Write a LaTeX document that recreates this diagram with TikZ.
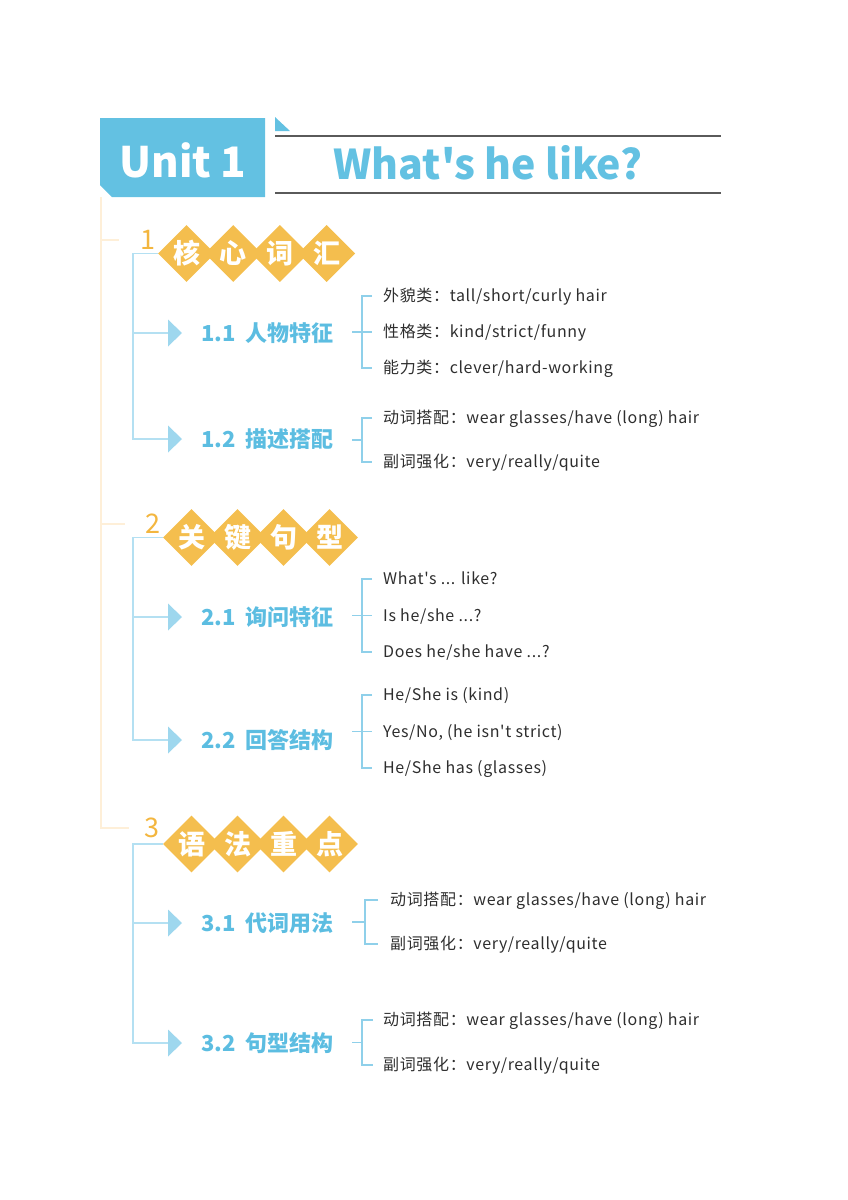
\documentclass[tikz,border=0pt]{standalone}
\usepackage{fontspec}
\setmainfont{Noto Sans CJK SC}[Ligatures=TeXOff]
\newfontfamily\itemfont{Noto Sans CJK SC}[Ligatures=TeXOff, LetterSpace=4]
\usetikzlibrary{positioning,shapes.geometric,calc}
\definecolor{headblue}{HTML}{63C1E2}
\definecolor{subblue}{HTML}{5CBDE1}
\definecolor{treeblue}{HTML}{B4E0F2}
\definecolor{tipblue}{HTML}{9ED7EE}
\definecolor{brkblue}{HTML}{8FD0EA}
\definecolor{gemorange}{HTML}{F4BE4E}
\definecolor{numorange}{HTML}{F3B63F}
\definecolor{creamline}{HTML}{FEEFD8}
\definecolor{titleline}{HTML}{5A5A5A}
\definecolor{itemgray}{HTML}{2E2E2E}
\begin{document}
\begin{tikzpicture}[x=1pt, y=-1pt,
    gem/.style={diamond, fill=gemorange, minimum size=57pt, inner sep=0pt,
      text=white, font=\bfseries\fontsize{27}{27}\selectfont},
    num/.style={inner sep=0pt, text=numorange, font=\fontsize{27}{27}\selectfont},
    sub/.style={anchor=west, inner sep=0pt, text=subblue,
      font=\bfseries\fontsize{22}{22}\selectfont},
    item/.style={anchor=west, inner sep=0pt, text height=13pt, text depth=3pt,
      text=itemgray, font=\itemfont\fontsize{16}{16}\selectfont},
    tree/.style={draw=treeblue, line width=1.3pt},
    brk/.style={draw=brkblue, line width=1.1pt},
    cream/.style={draw=creamline, line width=1.3pt},
    tip/.style={fill=tipblue}]
  \useasboundingbox (0,0) rectangle (848,1200);

  % header
  \fill[headblue] (100,118) -- (265,118) -- (265,197) -- (112,197) -- (100,185) -- cycle;
  \node[text=white, font=\bfseries\fontsize{42}{42}\selectfont] (unit) at (183,160) {Unit 1};
  \fill[headblue] (275,117) -- (290,131) -- (275,131) -- cycle;
  \draw[titleline, line width=1.2pt] (275,136) -- (721,136);
  \draw[titleline, line width=1.2pt] (275,193) -- (721,193);
  \node[text=headblue, font=\bfseries\fontsize{41}{41}\selectfont] (title) at (488,163) {What's he like?};

  % section numbers and diamonds
  \node[num] (n1) at (148,240) {1};
  \node[num] (n2) at (153,524) {2};
  \node[num] (n3) at (152,828) {3};
  \foreach \ch [count=\k] in {核,心,词,汇}
    \node[gem] (g1\k) at ({186.5+46.7*(\k-1)},253.5) {\ch};
  \foreach \ch [count=\k] in {关,键,句,型}
    \node[gem] (g2\k) at ({191.5+46*(\k-1)},537.5) {\ch};
  \foreach \ch [count=\k] in {语,法,重,点}
    \node[gem] (g3\k) at ({191.5+46*(\k-1)},844) {\ch};

  % left cream line
  \coordinate (c0) at (101,197);
  \draw[cream] (c0) |- ([xshift=-15pt]n3.west);
  \draw[cream] (c0 |- n1) -- ([xshift=-21pt]n1.west);
  \draw[cream] (c0 |- n2) -- ([xshift=-20pt]n2.west);

  % tree lines and arrows
  \coordinate (a11) at (168,333);
  \coordinate (a12) at (168,439);
  \coordinate (a21) at (168,617);
  \coordinate (a22) at (168,740);
  \coordinate (a31) at (168,923);
  \coordinate (a32) at (168,1043);
  \draw[tree] (g11.west) -| ([xshift=-35pt]a12) -- (a12);
  \draw[tree] ([xshift=-35pt]a11) -- (a11);
  \draw[tree] (g21.west) -| ([xshift=-35pt]a22) -- (a22);
  \draw[tree] ([xshift=-35pt]a21) -- (a21);
  \draw[tree] (g31.west) -| ([xshift=-35pt]a32) -- (a32);
  \draw[tree] ([xshift=-35pt]a31) -- (a31);
  \foreach \a in {a11,a12,a21,a22,a31,a32}
    \fill[tip] (\a) ++(0,-13.5) -- ++(14,13.5) -- ++(-14,13.5) -- cycle;

  % sub headings
  \node[sub] (s11) at (201,333) {1.1\hspace{10pt}人物特征};
  \node[sub] (s12) at (201,439) {1.2\hspace{10pt}描述搭配};
  \node[sub] (s21) at (201,617) {2.1\hspace{10pt}询问特征};
  \node[sub] (s22) at (201,740) {2.2\hspace{10pt}回答结构};
  \node[sub] (s31) at (201,923) {3.1\hspace{10pt}代词用法};
  \node[sub] (s32) at (201,1043) {3.2\hspace{10pt}句型结构};

  % items
  \node[item] (i11a) at (383,296) {外貌类：tall/short/curly hair};
  \node[item] (i11b) at (383,332) {性格类：kind/strict/funny};
  \node[item] (i11c) at (383,368) {能力类：clever/hard-working};
  \node[item] (i12a) at (383,418) {动词搭配：wear glasses/have (long) hair};
  \node[item] (i12b) at (383,462) {副词强化：very/really/quite};
  \node[item] (i21a) at (383,579) {What's ... like?};
  \node[item] (i21b) at (383,616) {Is he/she ...?};
  \node[item] (i21c) at (383,652) {Does he/she have ...?};
  \node[item] (i22a) at (383,695) {He/She is (kind)};
  \node[item] (i22b) at (383,732) {Yes/No, (he isn't strict)};
  \node[item] (i22c) at (383,768) {He/She has (glasses)};
  \node[item] (i31a) at (390,900) {动词搭配：wear glasses/have (long) hair};
  \node[item] (i31b) at (390,944) {副词强化：very/really/quite};
  \node[item] (i32a) at (383,1020) {动词搭配：wear glasses/have (long) hair};
  \node[item] (i32b) at (383,1065) {副词强化：very/really/quite};

  % brackets
  \draw[brk] ([xshift=-11pt]i11a.west) -| coordinate[pos=.75] (m11) ([xshift=-21pt]i11c.west) -- ([xshift=-11pt]i11c.west);
  \draw[brk] ([xshift=-10pt]m11) -- ([xshift=10pt]m11);
  \draw[brk] ([xshift=-11pt]i12a.west) -| coordinate[pos=.75] (m12) ([xshift=-21pt]i12b.west) -- ([xshift=-11pt]i12b.west);
  \draw[brk] ([xshift=-10pt]m12) -- (m12);
  \draw[brk] ([xshift=-11pt]i21a.west) -| coordinate[pos=.75] (m21) ([xshift=-21pt]i21c.west) -- ([xshift=-11pt]i21c.west);
  \draw[brk] ([xshift=-10pt]m21) -- ([xshift=10pt]m21);
  \draw[brk] ([xshift=-11pt]i22a.west) -| coordinate[pos=.75] (m22) ([xshift=-21pt]i22c.west) -- ([xshift=-11pt]i22c.west);
  \draw[brk] ([xshift=-10pt]m22) -- ([xshift=10pt]m22);
  \draw[brk] ([xshift=-12pt]i31a.west) -| coordinate[pos=.75] (m31) ([xshift=-25pt]i31b.west) -- ([xshift=-12pt]i31b.west);
  \draw[brk] ([xshift=-13pt]m31) -- (m31);
  \draw[brk] ([xshift=-10pt]i32a.west) -| coordinate[pos=.75] (m32) ([xshift=-21pt]i32b.west) -- ([xshift=-10pt]i32b.west);
  \draw[brk] ([xshift=-10pt]m32) -- (m32);
\end{tikzpicture}
\end{document}
